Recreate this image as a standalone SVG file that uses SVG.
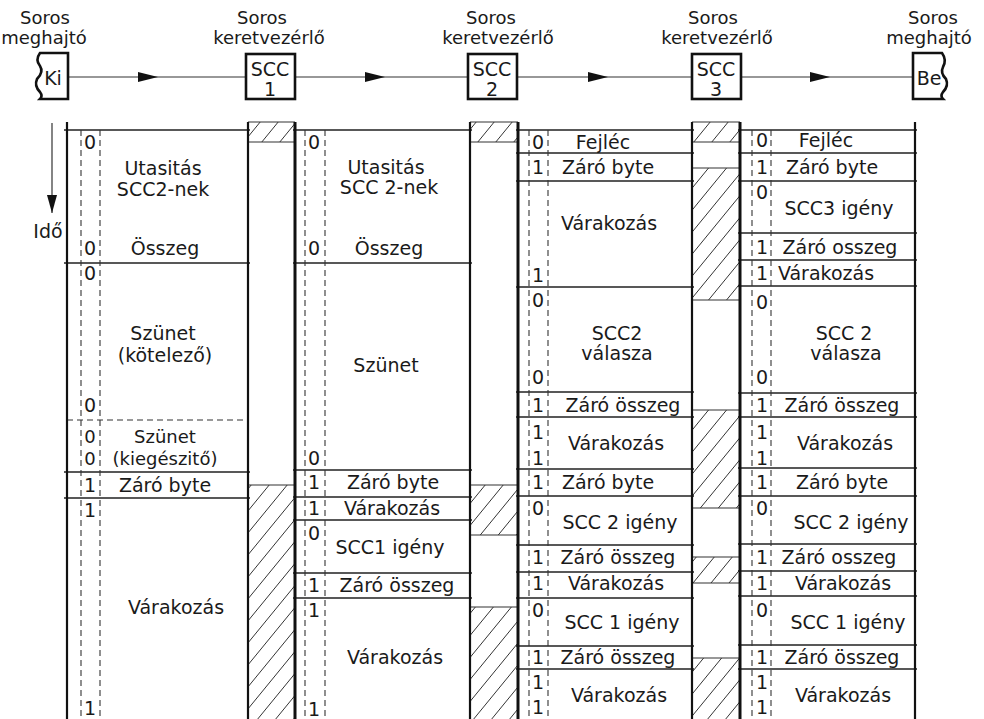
<svg xmlns="http://www.w3.org/2000/svg" width="984" height="719" viewBox="0 0 984 719">
<style>
  text{font-family:"DejaVu Sans","Liberation Sans",Arial,sans-serif;font-size:19px;fill:#1a1a1a;text-anchor:middle}
  .hd{font-size:18px}
  .sm{font-size:18px}
  .fr{stroke:#111;stroke-width:2.2;fill:none}
  .fk{stroke:#111;stroke-width:3;fill:none}
  .rw{stroke:#222;stroke-width:1.4;fill:none}
  .ds{stroke:#333;stroke-width:1.1;stroke-dasharray:6 4;fill:none}
  .hb{fill:url(#hatch);stroke:none}
  .hl{stroke:#333;stroke-width:1.1;fill:none}
  .box{stroke:#111;stroke-width:2.6;fill:#fff}
  .cn{stroke:#333;stroke-width:1.2;fill:none}
</style>
<defs>
  <pattern id="hatch" patternUnits="userSpaceOnUse" width="18" height="22">
    <path d="M0,22 L18,0 M-9,11 L0,0 M18,22 L27,11" stroke="#333" stroke-width="1" fill="none"/>
  </pattern>
  <marker id="arr" markerUnits="userSpaceOnUse" markerWidth="22" markerHeight="12" refX="20" refY="5" orient="auto">
    <path d="M0,0 L20,5 L0,10 z" fill="#111"/>
  </marker>
  <marker id="arrd" markerUnits="userSpaceOnUse" markerWidth="22" markerHeight="12" refX="18" refY="5" orient="auto">
    <path d="M0,0 L18,5 L0,10 z" fill="#111"/>
  </marker>
</defs>
<rect width="984" height="719" fill="#fff"/>

<!-- connectors -->
<g id="connectors">
  <path class="cn" d="M68,77 L158,77 L246,77" marker-mid="url(#arr)"/>
  <path class="cn" d="M295,77 L385,77 L468,77" marker-mid="url(#arr)"/>
  <path class="cn" d="M517,77 L608,77 L692,77" marker-mid="url(#arr)"/>
  <path class="cn" d="M741,77 L830,77 L913,77" marker-mid="url(#arr)"/>
  <path class="cn" d="M52,123 L52,213" marker-end="url(#arrd)" stroke-width="1.4"/>
</g>

<!-- header nodes -->
<g id="ki">
  <text class="hd" x="45" y="24">Soros</text>
  <text class="hd" x="44" y="44">meghajtó</text>
  <path class="box" d="M68,53 L40,53 Q35,60 40,66 Q44,72 37,79 Q34,86 40,92 Q43,96 40,99 L68,99 Z"/>
  <text x="53" y="85">Ki</text>
</g>
<g id="scc1">
  <text class="hd" x="262" y="24">Soros</text>
  <text class="hd" x="269" y="44">keretvezérlő</text>
  <rect class="box" x="246" y="54" width="49" height="45"/>
  <text x="270" y="76">SCC</text>
  <text x="270" y="96">1</text>
</g>
<g id="scc2">
  <text class="hd" x="491" y="24">Soros</text>
  <text class="hd" x="498" y="44">keretvezérlő</text>
  <rect class="box" x="468" y="54" width="49" height="45"/>
  <text x="492" y="76">SCC</text>
  <text x="492" y="96">2</text>
</g>
<g id="scc3">
  <text class="hd" x="713" y="24">Soros</text>
  <text class="hd" x="717" y="44">keretvezérlő</text>
  <rect class="box" x="692" y="54" width="49" height="45"/>
  <text x="716" y="76">SCC</text>
  <text x="716" y="96">3</text>
</g>
<g id="be">
  <text class="hd" x="933" y="24">Soros</text>
  <text class="hd" x="929" y="44">meghajtó</text>
  <path class="box" d="M913,53 L942,53 Q947,60 943,67 Q940,73 946,79 Q949,86 943,92 Q940,96 943,99 L913,99 Z"/>
  <text x="929" y="85">Be</text>
</g>

<g id="ido">
  <text x="48" y="238">Idő</text>
</g>

<!-- hatched controller columns -->
<g id="scc1-col">
  <rect class="hb" x="248" y="122" width="47" height="20"/>
  <path class="hl" d="M248,122 H295 M248,142 H295"/>
  <rect class="hb" x="248" y="485" width="47" height="234"/>
  <path class="hl" d="M248,485 H295"/>
</g>
<g id="scc2-col">
  <rect class="hb" x="470" y="122" width="48" height="20"/>
  <path class="hl" d="M470,122 H518 M470,142 H518"/>
  <rect class="hb" x="470" y="485" width="48" height="50"/>
  <path class="hl" d="M470,485 H518 M470,535 H518"/>
  <rect class="hb" x="470" y="607" width="48" height="112"/>
  <path class="hl" d="M470,607 H518"/>
</g>
<g id="scc3-col">
  <rect class="hb" x="692" y="122" width="48" height="20"/>
  <path class="hl" d="M692,122 H740 M692,142 H740"/>
  <rect class="hb" x="692" y="168" width="48" height="132"/>
  <path class="hl" d="M692,168 H740 M692,300 H740"/>
  <rect class="hb" x="692" y="410" width="48" height="98"/>
  <path class="hl" d="M692,410 H740 M692,508 H740"/>
  <rect class="hb" x="692" y="557" width="48" height="26"/>
  <path class="hl" d="M692,557 H740 M692,583 H740"/>
  <rect class="hb" x="692" y="658" width="48" height="61"/>
  <path class="hl" d="M692,658 H740"/>
</g>

<!-- column A: Ki output -->
<g id="col-ki">
  <path class="rw" d="M64,130 H250 M64,263 H250 M64,472 H250 M64,498 H250"/>
  <path class="ds" d="M67,420 H248 M81,130 V719 M100,130 V719"/>
  <text x="90" y="149">0</text>
  <text x="163" y="175">Utasitás</text>
  <text x="163" y="196">SCC2-nek</text>
  <text x="90" y="255">0</text>
  <text x="165" y="255">Összeg</text>
  <text x="90" y="280">0</text>
  <text x="163" y="340">Szünet</text>
  <text x="165" y="362">(kötelező)</text>
  <text x="90" y="412">0</text>
  <text class="sm" x="90" y="443">0</text>
  <text class="sm" x="165" y="443">Szünet</text>
  <text class="sm" x="90" y="465">0</text>
  <text class="sm" x="165" y="465">(kiegészitő)</text>
  <text x="90" y="492">1</text>
  <text x="165" y="492">Záró byte</text>
  <text x="90" y="517">1</text>
  <text x="176" y="614">Várakozás</text>
  <text x="90" y="715">1</text>
</g>

<!-- column B: SCC1 output -->
<g id="col-scc1">
  <path class="rw" d="M293,130 H472 M293,263 H472 M293,470 H472 M293,497 H472 M293,520 H472 M293,573 H472 M293,598 H472"/>
  <path class="ds" d="M305,130 V719 M325,130 V719"/>
  <text x="314" y="149">0</text>
  <text x="386" y="174">Utasitás</text>
  <text x="389" y="194">SCC 2-nek</text>
  <text x="314" y="255">0</text>
  <text x="389" y="255">Összeg</text>
  <text x="386" y="372">Szünet</text>
  <text x="314" y="465">0</text>
  <text x="314" y="489">1</text>
  <text x="393" y="489">Záró byte</text>
  <text x="314" y="515">1</text>
  <text x="392" y="515">Várakozás</text>
  <text x="314" y="540">0</text>
  <text x="390" y="554">SCC1 igény</text>
  <text x="314" y="592">1</text>
  <text x="397" y="592">Záró összeg</text>
  <text x="314" y="617">1</text>
  <text x="395" y="664">Várakozás</text>
  <text x="314" y="716">1</text>
</g>

<!-- column C: SCC2 output -->
<g id="col-scc2">
  <path class="rw" d="M516,130 H694 M516,153 H694 M516,181 H694 M516,287 H694 M516,392 H694 M516,417 H694 M516,469 H694 M516,496 H694 M516,545 H694 M516,572 H694 M516,598 H694 M516,646 H694 M516,669 H694"/>
  <path class="ds" d="M529,130 V719 M548,130 V719"/>
  <text x="538" y="149">0</text>
  <text x="603" y="149">Fejléc</text>
  <text x="538" y="174">1</text>
  <text x="608" y="174">Záró byte</text>
  <text x="609" y="230">Várakozás</text>
  <text x="538" y="282">1</text>
  <text x="538" y="307">0</text>
  <text x="617" y="340">SCC2</text>
  <text x="617" y="360">válasza</text>
  <text x="538" y="384">0</text>
  <text x="538" y="412">1</text>
  <text x="623" y="412">Záró összeg</text>
  <text x="538" y="439">1</text>
  <text x="616" y="450">Várakozás</text>
  <text x="538" y="465">1</text>
  <text x="538" y="489">1</text>
  <text x="608" y="489">Záró byte</text>
  <text x="538" y="515">0</text>
  <text x="620" y="529">SCC 2 igény</text>
  <text x="538" y="564">1</text>
  <text x="618" y="564">Záró összeg</text>
  <text x="538" y="590">1</text>
  <text x="616" y="590">Várakozás</text>
  <text x="538" y="617">0</text>
  <text x="622" y="629">SCC 1 igény</text>
  <text x="538" y="664">1</text>
  <text x="618" y="664">Záró összeg</text>
  <text x="538" y="689">1</text>
  <text x="619" y="702">Várakozás</text>
  <text x="538" y="714">1</text>
</g>

<!-- column D: Be input -->
<g id="col-be">
  <path class="rw" d="M738,130 H917 M738,153 H917 M738,181 H917 M738,233 H917 M738,260 H917 M738,286 H917 M738,393 H917 M738,417 H917 M738,468 H917 M738,496 H917 M738,544 H917 M738,571 H917 M738,596 H917 M738,645 H917 M738,669 H917"/>
  <path class="ds" d="M752,130 V719 M771,130 V719"/>
  <text x="762" y="147">0</text>
  <text x="826" y="147">Fejléc</text>
  <text x="762" y="174">1</text>
  <text x="832" y="174">Záró byte</text>
  <text x="762" y="199">0</text>
  <text x="839" y="215">SCC3 igény</text>
  <text x="762" y="254">1</text>
  <text x="840" y="254">Záró osszeg</text>
  <text x="762" y="280">1</text>
  <text x="826" y="280">Várakozás</text>
  <text x="762" y="309">0</text>
  <text x="844" y="340">SCC 2</text>
  <text x="846" y="360">válasza</text>
  <text x="762" y="384">0</text>
  <text x="762" y="412">1</text>
  <text x="842" y="412">Záró összeg</text>
  <text x="762" y="439">1</text>
  <text x="845" y="450">Várakozás</text>
  <text x="762" y="465">1</text>
  <text x="762" y="489">1</text>
  <text x="842" y="489">Záró byte</text>
  <text x="762" y="515">0</text>
  <text x="851" y="529">SCC 2 igény</text>
  <text x="762" y="564">1</text>
  <text x="839" y="564">Záró osszeg</text>
  <text x="762" y="590">1</text>
  <text x="843" y="590">Várakozás</text>
  <text x="762" y="617">0</text>
  <text x="848" y="629">SCC 1 igény</text>
  <text x="762" y="664">1</text>
  <text x="842" y="664">Záró összeg</text>
  <text x="762" y="689">1</text>
  <text x="843" y="702">Várakozás</text>
  <text x="762" y="714">1</text>
</g>

<!-- main verticals -->
<g id="grid">
  <path class="fr" d="M67,122 V719 M248,122 V719 M470,122 V719 M692,122 V719 M915,122 V719"/>
  <path class="fk" d="M295,122 V719 M518,122 V719 M740,122 V719"/>
</g>
</svg>
